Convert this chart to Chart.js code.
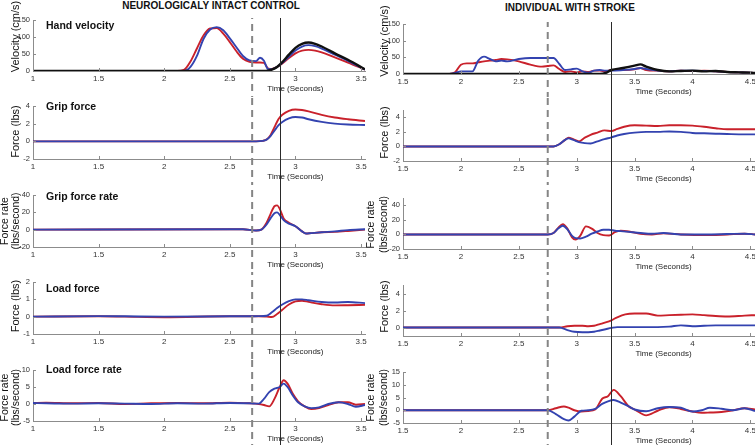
<!DOCTYPE html>
<html><head><meta charset="utf-8">
<script src="https://cdn.jsdelivr.net/npm/chart.js@4.4.1/dist/chart.umd.min.js"></script>
<style>
html,body{margin:0;padding:0;background:#fff;width:755px;height:445px;overflow:hidden;position:relative;}
canvas{position:absolute;}
.ttl{position:absolute;font:bold 10px "Liberation Sans",Arial,sans-serif;color:#111;white-space:nowrap;transform:translate(-50%,-50%);}
</style></head><body>
<div class="ttl" style="left:211px;top:5px">NEUROLOGICALY INTACT CONTROL</div>
<div class="ttl" style="left:570px;top:7px">INDIVIDUAL WITH STROKE</div>
<script>
// ---------- tick labels ----------
const xTicksControl = [1, 1.5, 2, 2.5, 3, 3.5];
const xTicksStroke = [1.5, 2, 2.5, 3, 3.5, 4, 4.5];
const yTicksVel = [0, 50, 100, 150];
const yTicksGripC = [-2, 0, 2, 4];
const yTicksGripRateC = [-20, 0, 20, 40];
const yTicksLoadC = [-1, 0, 1, 2];
const yTicksLoadRateC = [-5, 0, 5, 10];
const yTicksGripS = [-2, 0, 2, 4];
const yTicksGripRateS = [-20, 0, 20, 40];
const yTicksLoadS = [0, 2, 4];
const yTicksLoadRateS = [-5, 0, 5, 10, 15];

// ---------- control: hand velocity ----------
const tVelC =      [1, 2.1, 2.15, 2.2, 2.25, 2.3, 2.35, 2.4, 2.45, 2.5, 2.55, 2.6, 2.65, 2.7, 2.73, 2.76, 2.79, 2.82, 2.86, 2.9, 2.95, 3.0, 3.05, 3.1, 3.15, 3.2, 3.3, 3.4, 3.53];
const velC_red =   [0, 0, 3, 28, 67, 105, 125, 126, 110, 85, 58, 36, 27, 25, 25, 24, 8, 6, 12, 22, 38, 52, 60, 62, 60, 55, 40, 25, 4];
const velC_blue =  [0, 0, 0, 12, 45, 95, 122, 129, 120, 96, 70, 44, 31, 29, 39, 30, 6, 5, 12, 24, 42, 60, 72, 76, 73, 66, 48, 30, 4];
const velC_black = [0, 0, 0, 0, 0, 0, 0, 0, 0, 0, 0, 0, 0, 0, 0, 0, 1, 4, 12, 26, 48, 68, 80, 84, 80, 72, 52, 33, 5];

// ---------- control: grip force ----------
const tGripC =      [1, 2.7, 2.75, 2.78, 2.81, 2.84, 2.87, 2.9, 2.95, 3.0, 3.05, 3.1, 3.2, 3.3, 3.4, 3.53];
const gripC_red =   [0, 0, 0.05, 0.2, 0.7, 1.6, 2.5, 3.0, 3.45, 3.6, 3.55, 3.4, 3.0, 2.7, 2.5, 2.3];
const gripC_blue =  [0, 0, 0.05, 0.2, 0.6, 1.2, 1.8, 2.2, 2.6, 2.75, 2.7, 2.5, 2.2, 2.0, 1.9, 1.85];

// ---------- control: grip force rate ----------
const tGripRateC =     [1, 2.5, 2.6, 2.7, 2.74, 2.78, 2.81, 2.84, 2.86, 2.88, 2.91, 2.95, 3.0, 3.05, 3.08, 3.12, 3.2, 3.3, 3.4, 3.53];
const gripRateC_red =  [0, 0.5, 0.5, -1, 0, 8, 18, 27, 28, 24, 13, 8, 4, -2, -4.5, -4, -3, -2.5, -1.5, 0];
const gripRateC_blue = [0, 0.5, 0.5, -1, 0, 6, 13, 19, 20, 17, 11, 7, 4, -2, -4.5, -4, -3, -2, -0.5, 0.5];

// ---------- control: load force ----------
const tLoadC =     [1, 1.5, 1.7, 2.0, 2.5, 2.72, 2.78, 2.82, 2.86, 2.9, 2.95, 3.0, 3.05, 3.1, 3.2, 3.3, 3.4, 3.53];
const loadC_red =  [0, 0.02, 0, -0.03, 0.02, 0.02, 0, -0.02, 0.15, 0.4, 0.7, 0.88, 0.92, 0.85, 0.72, 0.65, 0.66, 0.68];
const loadC_blue = [0, 0.03, 0.02, 0, 0.02, 0.03, 0.05, 0.25, 0.5, 0.7, 0.9, 1.0, 1.0, 0.95, 0.85, 0.82, 0.85, 0.78];

// ---------- control: load force rate ----------
const tLoadRateC =     [1, 1.1, 1.3, 1.5, 1.7, 1.9, 2.1, 2.3, 2.5, 2.65, 2.72, 2.76, 2.8, 2.84, 2.88, 2.91, 2.94, 2.98, 3.02, 3.07, 3.12, 3.18, 3.25, 3.33, 3.4, 3.46, 3.53];
const loadRateC_red =  [0.3, 0.4, 0.2, 0.3, 0, 0.2, 0.3, 0.2, 0.4, 0.2, 0, -0.3, -0.7, 1.5, 5, 7, 6, 3, 0.8, -0.7, -1.5, -1.2, -0.3, 0.5, 0.5, -0.2, 0];
const loadRateC_blue = [0.3, 0.2, 0.1, 0.2, 0.1, 0, 0.2, 0.1, 0.3, 0.2, 0.1, 1.5, 3.5, 4.5, 5, 6, 5, 2.5, 0.5, -0.7, -1.2, -1, 0, 0.5, 0, -0.8, -0.3];

// ---------- stroke: hand velocity ----------
const tVelS =      [1.5, 1.9, 1.95, 2.0, 2.05, 2.1, 2.15, 2.2, 2.25, 2.3, 2.35, 2.4, 2.5, 2.6, 2.7, 2.75, 2.8, 2.85, 2.9, 2.95, 3.0, 3.05, 3.1, 3.15, 3.2, 3.25, 3.3, 3.4, 3.5, 3.55, 3.6, 3.7, 3.8, 3.9, 4.0, 4.1, 4.2, 4.3, 4.4, 4.5, 4.54];
const velS_red =   [0, 0, 5, 28, 32, 32, 35, 38, 40, 42, 45, 44, 38, 28, 22, 24, 26, 15, 6, 8, 5, 8, 6, 10, 10, 8, 12, 12, 14, 18, 12, 10, 8, 10, 9, 10, 8, 6, 5, 4, 3];
const velS_blue =  [0, 0, 3, 8, 8, 8, 40, 52, 45, 38, 40, 38, 45, 48, 48, 48, 48, 30, 12, 14, 16, 8, 4, 10, 12, 10, 10, 12, 15, 18, 15, 10, 8, 10, 10, 9, 8, 6, 5, 4, 3];
const velS_black = [0, 0, 0, 0, 0, 0, 0, 0, 0, 0, 0, 0, 0, 0, 0, 0, 0, 0, 0, 0, 0, 0, 0, 0, 0, 3, 12, 18, 25, 29, 22, 12, 8, 9, 10, 8, 9, 6, 5, 4, 3];

// ---------- stroke: grip force ----------
const tGripS =     [1.5, 2.8, 2.85, 2.9, 2.93, 2.97, 3.02, 3.07, 3.12, 3.18, 3.24, 3.3, 3.35, 3.41, 3.5, 3.6, 3.7, 3.8, 3.9, 4.0, 4.1, 4.2, 4.3, 4.45, 4.54];
const gripS_red =  [0, 0, 0.3, 0.9, 1.2, 1.0, 0.7, 1.2, 1.6, 1.9, 2.2, 2.1, 2.4, 2.7, 2.9, 2.85, 2.8, 2.9, 2.9, 2.85, 2.7, 2.5, 2.35, 2.35, 2.35];
const gripS_blue = [0, 0, 0.3, 0.9, 1.1, 0.9, 0.6, 0.45, 0.4, 0.7, 1.0, 1.25, 1.5, 1.7, 1.9, 2.0, 2.0, 2.05, 2.0, 1.85, 1.8, 1.75, 1.7, 1.65, 1.65];

// ---------- stroke: grip force rate ----------
const tGripRateS =     [1.5, 2.75, 2.8, 2.84, 2.88, 2.92, 2.96, 2.99, 3.03, 3.08, 3.13, 3.18, 3.23, 3.28, 3.33, 3.38, 3.45, 3.55, 3.65, 3.75, 3.9, 4.1, 4.3, 4.45, 4.54];
const gripRateS_red =  [0, 0, 2, 9, 14, 8, -4, -7, -2, 11, 8, 2, -1, -1.5, 3, 5, 4, 1, 0, 1.5, 0, -1, 0, 1, 0];
const gripRateS_blue = [0, 0, 2, 8, 12, 7, -2, -5, -5.5, -3, 1, 4, 6.5, 6.5, 5, 4.5, 3.5, 2, 1, 2, 0, 0, 0.5, 1, 0];

// ---------- stroke: load force ----------
const tLoadS =     [1.5, 2.85, 2.92, 2.98, 3.05, 3.1, 3.15, 3.2, 3.25, 3.3, 3.35, 3.42, 3.5, 3.6, 3.7, 3.8, 3.9, 4.0, 4.1, 4.2, 4.3, 4.45, 4.54];
const loadS_red =  [0, 0, 0.15, 0.2, 0.2, 0.15, 0.2, 0.4, 0.6, 0.85, 1.2, 1.55, 1.65, 1.65, 1.4, 1.45, 1.5, 1.55, 1.45, 1.35, 1.3, 1.4, 1.45];
const loadS_blue = [0, 0, -0.3, -0.5, -0.55, -0.55, -0.5, -0.35, -0.2, -0.05, 0.05, 0.05, 0.05, 0.05, 0.05, 0.1, 0.25, 0.15, 0.2, 0.25, 0.25, 0.25, 0.25];

// ---------- stroke: load force rate ----------
const tLoadRateS =     [1.5, 2.75, 2.82, 2.89, 2.93, 2.98, 3.04, 3.1, 3.16, 3.22, 3.27, 3.32, 3.38, 3.45, 3.5, 3.6, 3.7, 3.8, 3.9, 4.0, 4.08, 4.15, 4.25, 4.35, 4.45, 4.54];
const loadRateS_red =  [0, 0, 0.8, 1.5, 1, 0, -0.5, -0.3, 0.3, 4.5, 5.5, 8, 5.5, 1.5, 0.3, -2, -0.2, 1.2, 0.5, -0.5, -1, -0.9, -0.7, 0, 0.8, 0.3];
const loadRateS_blue = [0, 0, -1.5, -3.5, -4, -2.5, -0.2, 0, 0.5, 2.5, 3.5, 4, 3, 1.5, 0.3, -0.4, 0.8, 1.3, 1, -0.5, 0, 1, 0.6, 0, 0.8, -0.3];

// ---------- layout / style ----------
const FONT = '"Liberation Sans", Arial, sans-serif';
const COLORS = {red: '#c9212b', blue: '#3343b0', black: '#101010'};
const ROW_TOP = [0, 97, 185, 272, 360];
const ROW_BOT = [97, 185, 272, 360, 445];
const LABEL_Y = [26, 107, 197, 289, 370];
const COLS = [
  {left: 0, width: 370, axisW: 33, padRight: 5, xmin: 1, xmax: 3.53, xt: xTicksControl,
   dashed: 2.67, solid: 2.88, xTitleAt: 3.0, yTitleX1: 16, yTitleX2: [5, 16],
   plotTop: [20, 106, 195, 282, 370], plotBot: [71, 159, 247, 334, 421]},
  {left: 355, width: 400, axisW: 48, padRight: 0, xmin: 1.5, xmax: 4.54, xt: xTicksStroke,
   dashed: 2.75, solid: 3.30, xTitleAt: 3.75, yTitleX1: 30, yTitleX2: [16, 29],
   plotTop: [24, 110, 198, 285, 372], plotBot: [74, 161, 249, 336, 423]}
];

const panels = [
  {col: 0, row: 0, t: tVelC, ser: [['black', velC_black], ['blue', velC_blue], ['red', velC_red]], y: [0, 150], yt: yTicksVel, title: ['Velocity (cm/s)'], tdy: -9, label: 'Hand velocity'},
  {col: 0, row: 1, t: tGripC, ser: [['blue', gripC_blue], ['red', gripC_red]], y: [-2, 4], yt: yTicksGripC, title: ['Force (lbs)'], tdy: -1, label: 'Grip force'},
  {col: 0, row: 2, t: tGripRateC, ser: [['blue', gripRateC_blue], ['red', gripRateC_red]], y: [-20, 40], yt: yTicksGripRateC, title: ['Force rate', '(lbs/second)'], tdy: 0, label: 'Grip force rate'},
  {col: 0, row: 3, t: tLoadC, ser: [['blue', loadC_blue], ['red', loadC_red]], y: [-1, 2], yt: yTicksLoadC, title: ['Force (lbs)'], tdy: -2, label: 'Load force'},
  {col: 0, row: 4, t: tLoadRateC, ser: [['blue', loadRateC_blue], ['red', loadRateC_red]], y: [-5, 10], yt: yTicksLoadRateC, title: ['Force rate', '(lbs/second)'], tdy: 2, label: 'Load force rate'},
  {col: 1, row: 0, t: tVelS, ser: [['black', velS_black], ['blue', velS_blue], ['red', velS_red]], y: [0, 150], yt: yTicksVel, title: ['Velocity (cm/s)'], tdy: -8},
  {col: 1, row: 1, t: tGripS, ser: [['blue', gripS_blue], ['red', gripS_red]], y: [-2, 5], yt: yTicksGripS, title: ['Force (lbs)'], tdy: -3},
  {col: 1, row: 2, t: tGripRateS, ser: [['blue', gripRateS_blue], ['red', gripRateS_red]], y: [-20, 50], yt: yTicksGripRateS, title: ['Force rate', '(lbs/second)'], tdy: 1},
  {col: 1, row: 3, t: tLoadS, ser: [['blue', loadS_blue], ['red', loadS_red]], y: [-1, 5], yt: yTicksLoadS, title: ['Force (lbs)'], tdy: -4},
  {col: 1, row: 4, t: tLoadRateS, ser: [['blue', loadRateS_blue], ['red', loadRateS_red]], y: [-5, 15], yt: yTicksLoadRateS, title: ['Force rate', '(lbs/second)'], tdy: 0}
];

const deco = {
  id: 'deco',
  afterDatasetsDraw(chart, args, o) {
    const ctx = chart.ctx, ca = chart.chartArea, xs = chart.scales.x, ys = chart.scales.y;
    ctx.save();
    // inward tick marks
    ctx.strokeStyle = '#8c8c8c'; ctx.lineWidth = 1;
    xs.ticks.forEach(tk => {
      const px = Math.round(xs.getPixelForValue(tk.value)) + 0.5;
      ctx.beginPath(); ctx.moveTo(px, ca.bottom); ctx.lineTo(px, ca.bottom - 3); ctx.stroke();
    });
    ys.ticks.forEach(tk => {
      const py = Math.round(ys.getPixelForValue(tk.value)) + 0.5;
      ctx.beginPath(); ctx.moveTo(ca.left, py); ctx.lineTo(ca.left + 3, py); ctx.stroke();
    });
    // event lines
    const y0 = o.first ? ca.top - 2 : 0;
    const pd = xs.getPixelForValue(o.dashed);
    ctx.beginPath(); ctx.setLineDash([7, 5]); ctx.lineDashOffset = -(o.rowTop + y0);
    ctx.strokeStyle = '#858585'; ctx.lineWidth = 2;
    ctx.moveTo(pd, y0); ctx.lineTo(pd, chart.height); ctx.stroke();
    ctx.setLineDash([]);
    const ps = Math.round(xs.getPixelForValue(o.solid)) + 0.5;
    ctx.beginPath(); ctx.strokeStyle = '#2a2a2a'; ctx.lineWidth = 1;
    ctx.moveTo(ps, y0); ctx.lineTo(ps, chart.height); ctx.stroke();
    ctx.restore();
  },
  afterDraw(chart, args, o) {
    const ctx = chart.ctx, ca = chart.chartArea, xs = chart.scales.x;
    ctx.save();
    ctx.fillStyle = '#222';
    ctx.textAlign = 'center'; ctx.textBaseline = 'middle';
    ctx.font = '8px ' + FONT;
    ctx.fillText('Time (Seconds)', xs.getPixelForValue(o.xTitleAt), ca.bottom + 18);
    // y title
    ctx.font = (o.title.length > 1 ? '10.5px ' : '11px ') + FONT;
    ctx.fillStyle = '#111';
    const cy = (ca.top + ca.bottom) / 2 + (o.tdy || 0);
    o.title.forEach((line, i) => {
      ctx.save();
      ctx.translate(o.titleXs[i], cy);
      ctx.rotate(-Math.PI / 2);
      ctx.fillText(line, 0, 0);
      ctx.restore();
    });
    if (o.label) {
      ctx.font = 'bold 10.5px ' + FONT;
      ctx.textAlign = 'left';
      ctx.fillText(o.label, 46, o.labelY);
    }
    ctx.restore();
  }
};

panels.forEach(p => {
  const c = COLS[p.col];
  const top = ROW_TOP[p.row], h = ROW_BOT[p.row] - top;
  const padTop = c.plotTop[p.row] - top;
  const xh = ROW_BOT[p.row] - c.plotBot[p.row];
  const cv = document.createElement('canvas');
  cv.width = c.width; cv.height = h;
  cv.style.left = c.left + 'px'; cv.style.top = top + 'px';
  cv.style.width = c.width + 'px'; cv.style.height = h + 'px';
  document.body.appendChild(cv);
  const titleXs = p.title.length === 1 ? [c.yTitleX1] : c.yTitleX2;
  new Chart(cv, {
    type: 'line',
    data: {
      datasets: p.ser.map(([col, vals]) => ({
        data: p.t.map((x, i) => ({x: x, y: vals[i]})),
        borderColor: COLORS[col],
        borderWidth: col === 'black' ? 2.4 : 1.9,
        pointRadius: 0,
        cubicInterpolationMode: 'monotone',
        fill: false
      }))
    },
    options: {
      responsive: false, animation: false, events: [],
      devicePixelRatio: 1,
      layout: {autoPadding: false, padding: {top: padTop, left: 0, right: c.padRight, bottom: 0}},
      plugins: {
        legend: {display: false}, tooltip: {enabled: false},
        deco: {first: p.row === 0, rowTop: top, dashed: c.dashed, solid: c.solid, xTitleAt: c.xTitleAt,
               title: p.title, titleXs: titleXs, tdy: p.tdy, label: p.label,
               labelY: LABEL_Y[p.row] - top}
      },
      scales: {
        x: {
          type: 'linear', min: c.xmin, max: c.xmax,
          grid: {display: false, drawTicks: false},
          border: {display: true, color: '#8c8c8c', width: 1},
          ticks: {padding: 3, font: {size: 8, family: FONT}, color: '#333', maxRotation: 0, minRotation: 0, autoSkip: false, callback: v => String(v)},
          afterBuildTicks: s => { s.ticks = c.xt.map(v => ({value: v})); },
          afterFit: s => { s.height = xh; s.paddingLeft = 0; s.paddingRight = 0; }
        },
        y: {
          type: 'linear', min: p.y[0], max: p.y[1],
          grid: {display: false, drawTicks: false},
          border: {display: true, color: '#8c8c8c', width: 1},
          ticks: {padding: 3, font: {size: 7.5, family: FONT}, color: '#333', autoSkip: false, callback: v => String(v)},
          afterBuildTicks: s => { s.ticks = p.yt.map(v => ({value: v})); },
          afterFit: s => { s.width = c.axisW; s.paddingTop = 0; s.paddingBottom = 0; }
        }
      }
    },
    plugins: [deco]
  });
});
</script></body></html>
